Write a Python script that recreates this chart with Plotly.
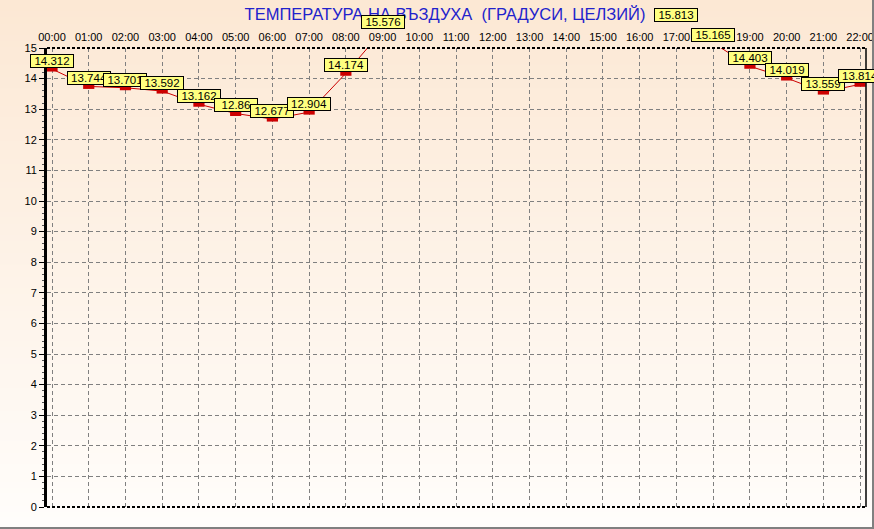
import plotly.graph_objects as go

hours = ["00:00", "01:00", "02:00", "03:00", "04:00", "05:00", "06:00", "07:00",
         "08:00", "09:00", "10:00", "11:00", "12:00", "13:00", "14:00", "15:00",
         "16:00", "17:00", "18:00", "19:00", "20:00", "21:00", "22:00"]
temps = [14.312, 13.744, 13.701, 13.592, 13.162, 12.86, 12.677, 12.904,
         14.174, 15.576, None, None, None, None, None, None,
         None, 15.813, 15.165, 14.403, 14.019, 13.559, 13.814]
y_ticks = list(range(0, 16))
title_text = "ТЕМПЕРАТУРА НА ВЪЗДУХА  (ГРАДУСИ, ЦЕЛЗИЙ)"

FW, FH = 874, 529
L, R, T, B = 47, 8, 48, 22
W, H = FW - L - R, FH - T - B
Y_RANGE = [0, 15]
X_RANGE = [-0.136, 22.16]

def px(x):
    return (x - L) / W

def py(y):
    return (FH - B - y) / H

fig = go.Figure()
fig.add_trace(go.Scatter(
    x=hours, y=temps, mode="lines+markers",
    line=dict(color="#CC0000", width=1),
    marker=dict(symbol="line-ew", size=8, line=dict(color="#CC0000", width=5)),
    connectgaps=False, hoverinfo="skip", showlegend=False,
))

annotations = []
for i, (h, v) in enumerate(zip(hours, temps)):
    if v is None:
        continue
    annotations.append(dict(
        x=(i - X_RANGE[0]) / (X_RANGE[1] - X_RANGE[0]),
        y=(v - Y_RANGE[0]) / (Y_RANGE[1] - Y_RANGE[0]),
        xref="paper", yref="paper", text=f"{v:g}", showarrow=False,
        xanchor="center", yanchor="bottom", yshift=1,
        bgcolor="#FFFF80", bordercolor="#000000", borderwidth=1, borderpad=0,
        width=42, height=12,
        font=dict(family="Liberation Sans, Arial", size=11.5, color="#000000"),
    ))

shapes = []
# gradient background
n = 90
top_c = (252, 232, 212)
bot_c = (255, 253, 251)
for i in range(n):
    t = i / (n - 1)
    c = tuple(round(top_c[k] + (bot_c[k] - top_c[k]) * t) for k in range(3))
    y0 = i * FH / n
    y1 = (i + 1) * FH / n + 1
    shapes.append(dict(type="rect", xref="paper", yref="paper",
                       x0=px(0), x1=px(FW), y0=py(y1), y1=py(y0),
                       fillcolor=f"rgb{c}", line=dict(width=0), layer="below"))
# frame borders
shapes.append(dict(type="line", xref="paper", yref="paper", x0=0, x1=1, y0=1, y1=1,
                   line=dict(color="#000000", width=2, dash="3px,2px"), layer="above"))
shapes.append(dict(type="line", xref="paper", yref="paper", x0=0, x1=1, y0=0, y1=0,
                   line=dict(color="#000000", width=2, dash="3px,2px"), layer="above"))
shapes.append(dict(type="line", xref="paper", yref="paper", x0=1, x1=1, y0=0, y1=1,
                   line=dict(color="#000000", width=1.5), layer="above"))
# outer window edges
shapes.append(dict(type="line", xref="paper", yref="paper", x0=px(0), x1=px(FW),
                   y0=py(FH - 1), y1=py(FH - 1), line=dict(color="#808080", width=2)))
shapes.append(dict(type="line", xref="paper", yref="paper", x0=px(FW - 1), x1=px(FW - 1),
                   y0=py(0), y1=py(FH), line=dict(color="#808080", width=2)))

fig.update_layout(
    width=FW, height=FH, autosize=False,
    margin=dict(l=L, r=R, t=T, b=B, pad=0, autoexpand=False),
    paper_bgcolor="#FFFFFF", plot_bgcolor="rgba(0,0,0,0)",
    font=dict(family="Liberation Sans, Arial", size=11, color="#000000"),
    title=dict(text=title_text, x=445 / FW, xanchor="center", y=1 - 14 / FH, yanchor="middle",
               font=dict(family="Liberation Sans, Arial", size=16.5, color="#2222CC"),
               automargin=False),
    xaxis=dict(type="category", side="top", range=X_RANGE, automargin=False,
               showgrid=True, gridcolor="#808080", gridwidth=1, griddash="4px,3px",
               showline=False, zeroline=False, ticks="", ticklabelstandoff=4,
               tickfont=dict(size=11, color="#000000")),
    yaxis=dict(range=Y_RANGE, tickvals=y_ticks, ticktext=[str(v) for v in y_ticks],
               automargin=False,
               showgrid=True, gridcolor="#808080", gridwidth=1, griddash="4px,3px",
               showline=True, linecolor="#000000", linewidth=3, zeroline=False,
               ticks="outside", ticklen=5, tickcolor="#000000", tickwidth=1,
               minor=dict(ticks="outside", ticklen=2, dtick=0.2, tickcolor="#555555",
                          showgrid=False),
               tickfont=dict(size=11, color="#000000")),
    annotations=annotations, shapes=shapes,
)
fig.write_html("out.html", config={"displayModeBar": False},
               post_script="document.body.style.margin='0';document.body.style.overflow='hidden';")
